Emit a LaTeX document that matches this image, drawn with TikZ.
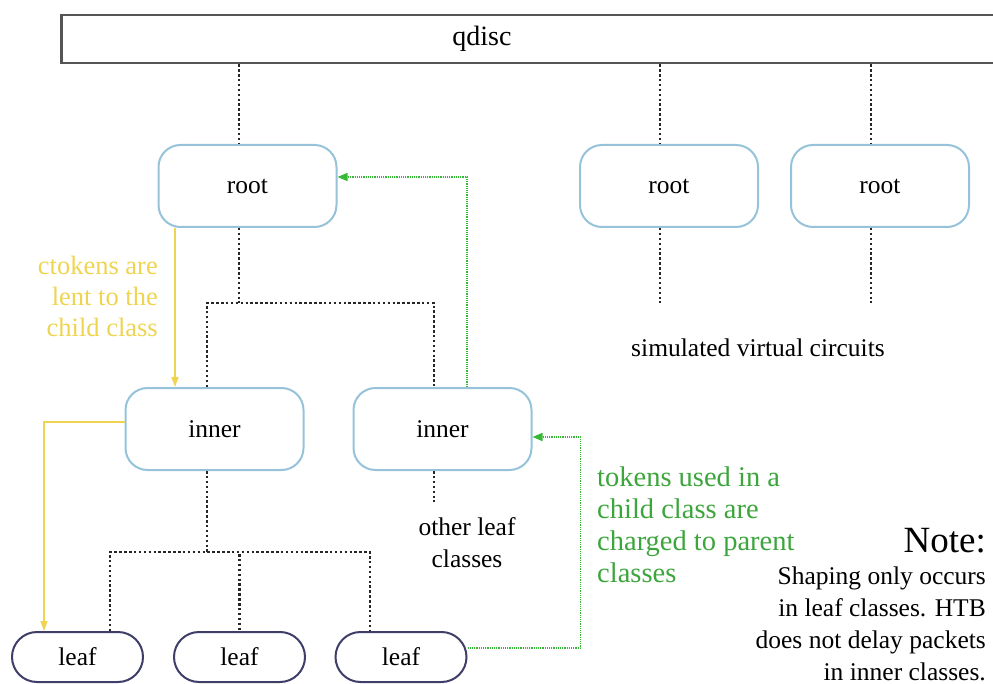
\documentclass[tikz,border=0pt]{standalone}
\usepackage{fontspec}
\setmainfont{Liberation Serif}
\usetikzlibrary{arrows.meta}
\definecolor{boxblue}{RGB}{150,195,218}
\definecolor{leafedge}{RGB}{62,62,105}
\definecolor{qedge}{RGB}{85,85,85}
\definecolor{tokyellow}{RGB}{238,212,80}
\definecolor{tokgreen}{RGB}{55,185,55}
\definecolor{txtgreen}{RGB}{60,165,60}
\newcommand\lblfont{\fontsize{25.5}{32}\selectfont}
\newcommand\qfont{\fontsize{28}{32}\selectfont}
\newcommand\yfont{\fontsize{26.5}{31}\selectfont}
\newcommand\gfont{\fontsize{28.5}{31.7}\selectfont}
\newcommand\notefont{\fontsize{37}{40}\selectfont}
\tikzset{
  qbox/.style={draw=qedge, line width=2.5pt, minimum height=48pt, inner sep=0pt},
  cls/.style={draw=boxblue, line width=2pt, rounded corners=22pt, fill=white,
              minimum width=178pt, minimum height=82pt, font=\lblfont},
  leafbox/.style={draw=leafedge, line width=2pt, rounded corners=25pt, fill=white,
              minimum width=131pt, minimum height=50pt, font=\lblfont},
  tree/.style={draw=black!85, line width=2.5pt, dash pattern=on 2.5pt off 2.4pt},
  lend/.style={draw=tokyellow, line width=1.6pt, -{Triangle[length=10pt,width=7pt]}},
  charge/.style={draw=tokgreen, line width=1.6pt, dash pattern=on 1.2pt off 1pt,
              -{Triangle[length=10pt,width=8pt]}},
  plain/.style={font=\lblfont, inner sep=0pt},
}
\begin{document}
\begin{tikzpicture}[x=1pt, y=-1pt]
\useasboundingbox (0,0) rectangle (993,684);

% queueing discipline bar, running off the right edge
\node[qbox, minimum width=945pt, anchor=west] (qdisc) at (60,39) {};
\node[plain, font=\qfont] (qlabel) at (482,39) {qdisc};

% root classes
\node[cls] (root1) at (247.5,186) {root};
\node[cls] (root2) at (669,186) {root};
\node[cls] (root3) at (880,186) {root};

% inner classes
\node[cls] (inner1) at (214.5,429) {inner};
\node[cls] (inner2) at (442.5,429) {inner};

% leaf classes
\node[leafbox] (leaf1) at (77.5,657) {leaf};
\node[leafbox] (leaf2) at (239.5,657) {leaf};
\node[leafbox] (leaf3) at (401,657) {leaf};

% attachment points of the hierarchy lines
\coordinate (r1t) at ([xshift=-8.5pt]root1.north);
\coordinate (r1b) at ([xshift=-8.5pt]root1.south);
\coordinate (r2t) at ([xshift=-9pt]root2.north);
\coordinate (r2b) at ([xshift=-9pt]root2.south);
\coordinate (r3t) at ([xshift=-9pt]root3.north);
\coordinate (r3b) at ([xshift=-9pt]root3.south);
\coordinate (i1t) at ([xshift=-7.5pt]inner1.north);
\coordinate (i1b) at ([xshift=-7.5pt]inner1.south);
\coordinate (i2t) at ([xshift=-8.5pt]inner2.north);
\coordinate (i2b) at ([xshift=-8.5pt]inner2.south);
\coordinate (l1t) at ([xshift=32.5pt]leaf1.north);
\coordinate (l2t) at (leaf2.north);
\coordinate (l3t) at ([xshift=-31pt]leaf3.north);
\coordinate (bus1) at (239,303);
\coordinate (bus2) at (207,552);
\coordinate (vc2) at (660,303);
\coordinate (vc3) at (871,303);
\coordinate (other) at (434,502);

% hierarchy (dotted)
\draw[tree] (qdisc.south -| r1t) -- (r1t);
\draw[tree] (qdisc.south -| r2t) -- (r2t);
\draw[tree] (qdisc.south -| r3t) -- (r3t);
\draw[tree] (r2b) -- (vc2);
\draw[tree] (r3b) -- (vc3);
\draw[tree] (r1b) -- (bus1);
\draw[tree] (i1t) |- (bus1) -| (i2t);
\draw[tree] (i1b) -- (bus2);
\draw[tree] (l1t) |- (bus2) -| (l3t);
\draw[tree] ([yshift=-2pt]l2t |- bus2) -- (l2t);
\draw[tree] (i2b) -- (other);

% ctokens lent downwards (yellow)
\draw[lend] ([xshift=-72.5pt]root1.south) -- ([xshift=-72.5pt]root1.south |- inner1.north);
\draw[lend] ([yshift=7pt]inner1.west) -| ([xshift=-33.5pt]leaf1.north);

% tokens charged upwards (green)
\draw[charge] ([xshift=24.5pt]inner2.north) |- ([yshift=9pt]root1.east);
\draw[charge] ([yshift=9pt]leaf3.east) -- ++(113,0) |- ([yshift=-8pt]inner2.east);

% annotations (base = baseline of the last line)
\node[plain, font=\yfont, text=tokyellow, align=right, anchor=base east] (ctok) at (158,337)
  {ctokens are\\lent to the\\child class};
\node[plain, font=\gfont, text=txtgreen, align=left, anchor=base west] (tokuse) at (597,582)
  {tokens used in a\\child class are\\charged to parent\\classes};
\node[plain, align=center, anchor=base] (otherlbl) at (467,567) {other leaf\\classes};
\node[plain, anchor=base] (vclbl) at (758,357) {simulated virtual circuits};
\node[plain, font=\notefont, anchor=base east] (notehd) at (986,552) {Note:};
\node[plain, align=right, anchor=base east] (notetx) at (986,680)
  {Shaping only occurs\\in leaf classes. HTB\\does not delay packets\\in inner classes.};
\end{tikzpicture}
\end{document}
